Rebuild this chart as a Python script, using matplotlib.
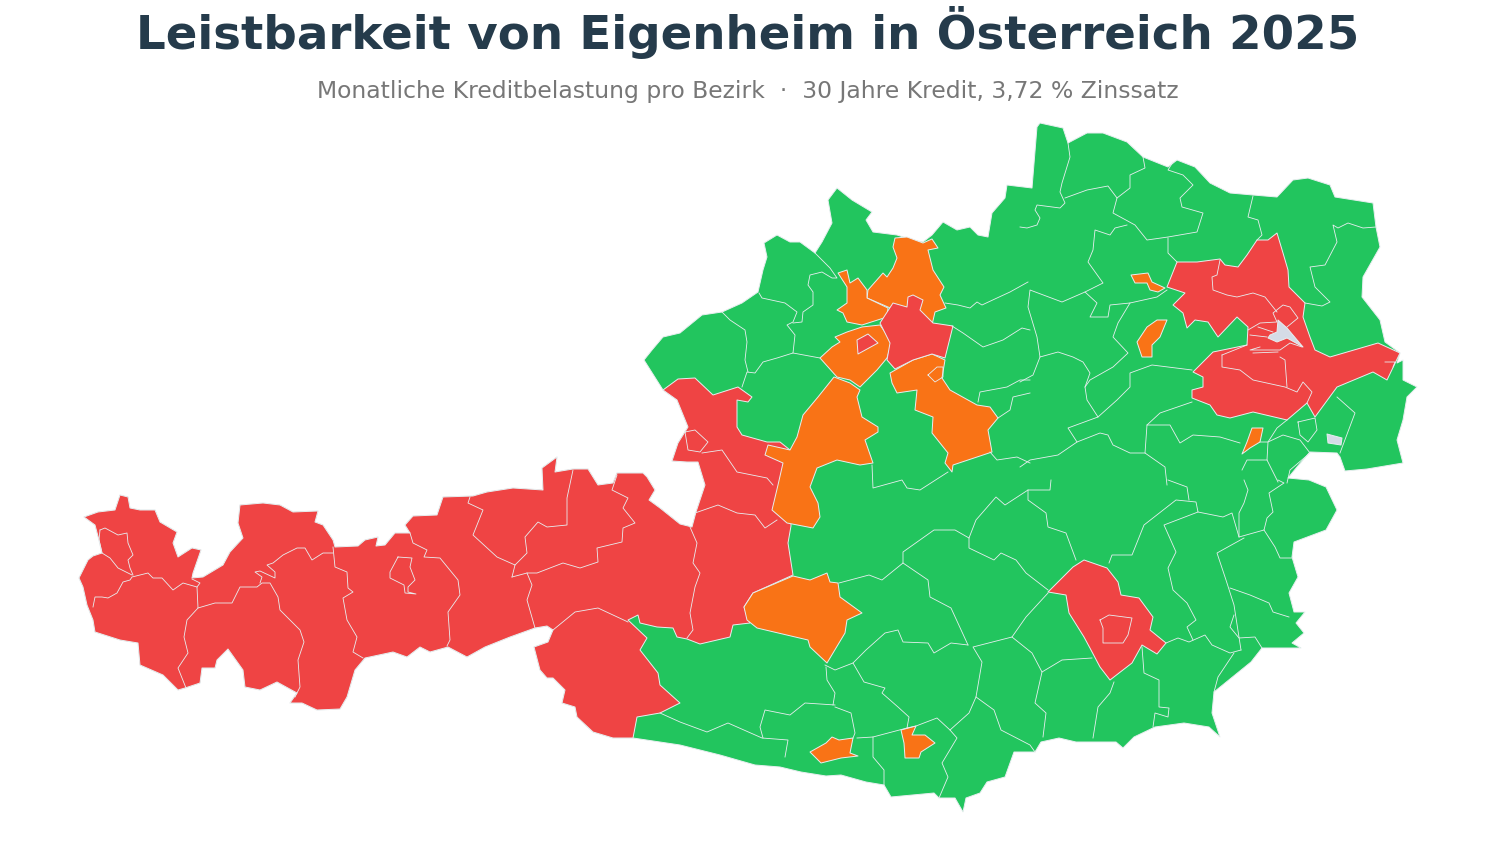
import matplotlib
matplotlib.use("Agg")
import matplotlib.pyplot as plt

# outlines, x to the right, y downwards
OUTLINE_WEST = [(633,738),(613,738),(593,732),(577,717),(575,707),(562,703),(565,690),(553,678),(547,678),(540,670),
    (534,647),(548,642),(553,630),(547,626),(535,628),(510,637),(485,647),(467,657),(448,647),(430,652),(420,647),
    (407,657),(393,652),(365,658),(355,670),(347,697),(340,709),(317,710),(302,703),(290,703),(297,693),(277,682),
    (260,690),(245,687),(243,670),(228,649),(217,660),(215,668),(202,668),(200,683),(185,688),(178,690),(163,675),
    (140,665),(138,643),(120,640),(95,632),(93,620),(87,605),(83,587),(79,578),(88,560),(93,556),(102,553),(99,540),
    (95,525),(84,517),(98,512),(115,510),(120,495),(128,497),(130,508),(140,510),(155,510),(160,522),(177,532),
    (173,543),(178,557),(192,548),(201,550),(193,573),(192,578),(203,577),(223,565),(230,552),(243,538),(238,523),
    (240,505),(263,503),(280,505),(293,512),(318,511),(315,522),(323,525),(333,540),(335,547),(358,546),(365,540),
    (378,537),(376,546),(385,545),(395,533),(410,533),(405,525),(413,516),(437,515),(443,497),(473,496),(487,492),
    (513,488),(543,490),(542,468),(557,457),(555,472),(573,469),(588,469),(598,485),(613,483),(617,473),(643,473),
    (647,477),(655,490),(649,500),(660,508),(680,524),(692,527),(696,512),(705,485),(698,462),(687,462),(672,461),
    (678,443),(688,427),(677,400),(663,390)]
OUTLINE_EAST = [(644,360),(652,350),(663,337),(680,333),(702,315),(722,312),(742,303),(758,292),(763,270),(767,257),
    (764,243),(777,235),(790,242),(800,242),(815,253),(822,242),(832,223),(828,200),(837,188),(852,200),(872,212),
    (866,220),(873,232),(897,235),(913,240),(923,242),(932,235),(943,222),(957,230),(970,227),(978,235),(988,237),
    (992,213),(1005,198),(1007,185),(1032,188),(1037,127),(1040,123),(1063,128),(1068,143),(1087,133),(1103,133),
    (1127,142),(1143,157),(1168,167),(1177,160),(1195,167),(1210,183),(1230,193),(1253,195),(1277,197),(1293,180),
    (1308,178),(1330,185),(1335,197),(1373,203),(1376,227),(1380,247),(1363,277),(1362,297),(1380,320),(1385,342),
    (1400,353),(1397,363),(1403,360),(1403,380),(1417,387),(1407,397),(1403,420),(1397,440),(1403,463),(1367,469),
    (1345,471),(1340,457),(1337,453),(1310,452),(1297,467),(1288,478),(1309,480),(1326,487),(1337,510),(1326,530),
    (1294,542),(1292,557),(1298,577),(1289,593),(1294,612),(1305,612),(1296,623),(1304,633),(1292,643),(1301,648),
    (1262,648),(1251,662),(1214,692),(1212,713),(1220,737),(1209,727),(1184,723),(1155,727),(1134,737),(1123,748),
    (1116,742),(1076,742),(1059,738),(1041,742),(1035,752),(1014,752),(1005,777),(987,782),(980,793),(966,798),
    (963,812),(955,798),(939,798),(934,793),(891,797),(884,785),(866,782),(841,775),(826,776),(801,772),(780,767),
    (755,765),(720,755),(680,745)]
WEST_BOUNDARY = [(678,379),(695,378),(713,395),(738,387),(752,397),(748,402),(737,400),(737,427),(742,435),(767,442),
    (780,442),(790,450),(791,526),(788,543),(793,575),(753,593),(744,607),(750,623),(733,625),(730,637),(700,644),
    (687,639),(677,637),(673,628),(657,627),(640,623),(638,615),(628,620),(647,638),(640,650),(658,673),(660,685),
    (680,703),(660,713),(637,717)]

RED_LOWER_AUSTRIA = [(1177,262),(1197,262),(1220,259),(1225,265),(1238,267),(1247,255),(1257,240),(1268,240),(1277,233),
    (1283,253),(1288,270),(1289,287),(1305,303),(1303,317),(1310,337),(1315,350),(1330,357),(1378,343),(1400,353),
    (1387,380),(1373,372),(1337,387),(1315,417),(1307,403),(1287,420),(1253,412),(1230,418),(1217,415),(1210,405),
    (1192,398),(1192,390),(1203,387),(1203,377),(1193,372),(1213,352),(1247,345),(1248,327),(1237,317),(1218,337),
    (1208,322),(1195,320),(1187,328),(1183,313),(1173,305),(1185,293),(1167,287)]
RED_STYRIA = [(1048,592),(1073,567),(1084,560),(1107,568),(1118,582),(1121,595),(1139,598),(1153,617),(1150,630),
    (1166,643),(1157,654),(1142,645),(1132,663),(1110,680),(1100,667),(1091,650),(1084,637),(1069,613),(1066,595)]
RED_CENTER = [(880,323),(893,303),(907,307),(908,297),(913,295),(923,300),(920,310),(933,323),(953,326),(945,358),
    (932,354),(913,360),(895,369),(887,360),(890,343),(882,327)]
RED_ISLAND = [(857,340),(868,334),(878,343),(858,354)]

ORANGE_NORTH = [(895,238),(907,237),(923,243),(932,239),(938,248),(928,250),(933,270),(944,287),(940,295),(946,308),
    (935,312),(932,325),(888,307),(867,298),(868,290),(883,273),(887,277),(893,268),(897,258),(893,247)]
ORANGE_NORTH_WEST = [(838,273),(847,270),(850,283),(858,278),(867,290),(867,298),(888,308),(887,317),(862,325),(847,322),
    (843,313),(837,310),(847,303),(847,287)]
ORANGE_WELS = [(862,327),(880,325),(892,342),(887,358),(877,370),(860,387),(850,380),(837,377),(820,358),(832,347),
    (840,342),(835,337),(847,332)]
ORANGE_SOUTH = [(834,377),(850,383),(860,390),(857,397),(862,417),(878,427),(878,432),(865,440),(873,463),(860,465),
    (837,460),(817,468),(810,487),(818,503),(820,517),(813,528),(787,523),(772,510),(778,485),(783,463),(765,455),
    (768,445),(790,450),(797,437),(803,415),(818,397)]
ORANGE_EAST = [(890,373),(913,360),(932,354),(945,360),(942,378),(950,390),(977,405),(990,407),(998,418),(988,430),
    (992,452),(977,457),(953,465),(952,472),(945,463),(948,453),(932,433),(933,417),(915,410),(917,390),(897,393),(892,383)]
ORANGE_PINZGAU = [(753,593),(793,576),(810,580),(827,573),(830,582),(838,583),(840,597),(862,613),(847,620),(845,633),
    (827,663),(810,647),(808,640),(757,628),(747,620),(744,607)]
ORANGE_SPOT_1 = [(810,752),(826,743),(832,737),(839,740),(853,738),(850,753),(858,756),(841,758),(821,763)]
ORANGE_SPOT_2 = [(901,730),(916,726),(912,735),(925,735),(935,743),(921,752),(919,758),(905,758),(904,743)]
ORANGE_SPOT_3 = [(1131,275),(1148,273),(1152,282),(1165,288),(1158,292),(1150,290),(1147,283),(1135,283)]
ORANGE_SPOT_4 = [(1147,327),(1157,320),(1167,320),(1160,337),(1152,345),(1152,357),(1142,357),(1137,342)]
ORANGE_SPOT_5 = [(1252,428),(1263,428),(1260,442),(1250,448),(1242,454),(1247,442)]

NO_DATA_VIENNA = [(1278,320),(1287,328),(1303,347),(1287,338),(1277,342),(1268,338),(1270,335),(1277,332)]
NO_DATA_RUST = [(1327,434),(1342,438),(1341,445),(1328,443)]

RED_AREAS = [RED_LOWER_AUSTRIA, RED_STYRIA]
ORANGE_AREAS = [ORANGE_NORTH, ORANGE_NORTH_WEST, ORANGE_WELS, ORANGE_SOUTH, ORANGE_EAST, ORANGE_PINZGAU,
    ORANGE_SPOT_1, ORANGE_SPOT_2, ORANGE_SPOT_3, ORANGE_SPOT_4, ORANGE_SPOT_5]
RED_ON_ORANGE = [RED_CENTER, RED_ISLAND]
GREY_AREAS = [NO_DATA_VIENNA, NO_DATA_RUST]

BORDERS_WEST = [
    [(100,530),(105,528),(118,535),(127,533),(128,543),(133,555),(128,560),(130,568),(133,575)],
    [(100,530),(99,540),(102,553),(110,558),(118,568),(132,575)],
    [(93,607),(95,597),(102,597),(108,598),(117,593),(123,582),(130,580),(132,577),(148,573),(153,578),(162,578),(173,590),(183,583),(197,587)],
    [(192,579),(200,583),(197,587),(198,608),(187,620),(184,637),(188,653),(178,668),(186,688)],
    [(198,608),(215,603),(232,603),(240,587),(257,587),(262,583),(270,583),(278,597),(280,610),(300,630),(304,642),(298,660),(300,687),(295,697)],
    [(260,583),(262,577),(255,572),(260,571),(275,578),(275,572),(267,565),(273,563),(283,555),(297,548),(305,548),(312,560),(323,553),(333,553)],
    [(333,547),(335,567),(347,572),(348,588),(353,592),(343,598),(347,620),(357,637),(353,652),(363,658)],
    [(398,557),(412,558),(410,567),(415,580),(408,587),(408,592),(416,594),(405,593),(404,585),(390,578),(390,572),(398,557)],
    [(410,533),(413,543),(427,550),(424,557),(440,558),(458,580),(460,595),(448,612),(450,640),(447,646)],
    [(470,497),(468,503),(483,510),(473,535),(497,557),(515,565),(512,577)],
    [(573,470),(567,498),(567,525),(547,527),(538,522),(525,537),(527,553),(515,565)],
    [(512,577),(527,573),(537,573),(563,563),(580,568),(598,562),(597,548),(622,542),(623,528),(635,523),(623,508),(628,498),(612,490),(617,475)],
    [(527,573),(532,585),(527,600),(535,628)],
    [(690,527),(697,543),(693,563),(700,573),(695,587),(690,613),(693,630),(687,638)],
    [(553,630),(575,612),(598,608),(628,622)],
    [(695,513),(718,505),(737,513),(755,515),(765,528),(777,520)],
    [(702,453),(722,450),(737,472),(767,478),(773,485)],
    [(685,432),(695,430),(708,442),(700,452),(688,450),(685,432)],
]
BORDERS_NORTH = [
    [(759,293),(762,298),(785,303),(797,312),(793,322),(787,325),(795,335),(793,353),(777,358),(763,362),(755,373),(747,372),(745,378),(742,387)],
    [(793,353),(820,358)],
    [(722,312),(730,320),(745,330),(747,342),(745,360),(748,372)],
    [(815,253),(830,268),(837,278),(832,278),(822,272),(810,275),(808,285),(813,292),(813,305),(803,312),(802,322),(793,323)],
    [(945,303),(958,305),(970,308),(977,302),(982,305),(997,298),(1010,292),(1028,282)],
    [(952,326),(963,333),(983,347),(1003,340),(1022,328),(1030,330)],
    [(872,465),(873,488),(902,480),(907,488),(920,490),(948,472)],
    [(978,402),(980,392),(1007,387),(1020,380),(1030,380)],
    [(990,452),(997,460),(1017,457),(1030,463)],
    [(998,418),(1010,410),(1013,397),(1030,393)],
    [(928,375),(937,367),(943,367),(943,377),(935,382),(928,375)],
    [(1068,143),(1070,157),(1062,183),(1060,192),(1065,203),(1060,208),(1037,205),(1035,210),(1040,218),(1037,225),(1027,228),(1020,227)],
    [(1065,198),(1087,190),(1108,186),(1117,198),(1113,213),(1135,225),(1147,240),(1168,237),(1197,232),(1203,213),(1182,207),(1180,198),(1193,185),(1183,175),(1168,170),(1173,162)],
    [(1143,157),(1145,168),(1130,175),(1130,188),(1117,198)],
    [(1127,225),(1115,228),(1110,235),(1095,230),(1093,250),(1088,262),(1103,283),(1085,292),(1097,303),(1090,317),(1108,317),(1110,305),(1130,303),(1157,297),(1167,290)],
    [(1168,238),(1168,253),(1177,262)],
    [(1085,292),(1062,302),(1030,290),(1028,307),(1037,337),(1040,357),(1058,352),(1073,357),(1083,362),(1090,373),(1085,387)],
    [(1130,303),(1118,323),(1113,337),(1128,353),(1113,367),(1090,380),(1085,387),(1087,400),(1098,417),(1068,428),(1077,442),(1058,455),(1030,460),(1020,467)],
    [(1040,357),(1033,375),(1020,382)],
    [(1098,417),(1117,400),(1130,387),(1130,373),(1152,365),(1192,370)],
    [(1192,402),(1160,413),(1147,425),(1145,453),(1165,467),(1167,485)],
    [(1077,442),(1100,433),(1108,435),(1113,445),(1130,453),(1145,453)],
    [(1147,425),(1170,425),(1180,443),(1193,435),(1220,437),(1240,443)],
    [(1287,420),(1277,428),(1268,442),(1267,460),(1278,482)],
    [(1260,442),(1268,442),(1283,435),(1300,440),(1310,453),(1290,470),(1287,483)],
    [(1298,422),(1315,418),(1317,430),(1308,442),(1300,435),(1298,422)],
    [(1337,397),(1355,413),(1340,453)],
    [(1267,460),(1247,460),(1242,470)],
    [(1253,196),(1248,217),(1258,220),(1262,235),(1257,240)],
    [(1376,227),(1363,228),(1348,223),(1338,228),(1333,225),(1337,242),(1325,265),(1310,267),(1315,287),(1330,302),(1322,306),(1305,303)],
]
BORDERS_VIENNA = [
    [(1220,260),(1217,275),(1212,277),(1213,290),(1227,295),(1237,297),(1253,293),(1265,297),(1277,312)],
    [(1222,355),(1222,367),(1240,370),(1253,380),(1285,387),(1297,392),(1303,382),(1312,392),(1307,403)],
    [(1287,387),(1285,360),(1280,357)],
    [(1222,355),(1247,345)],
    [(1248,330),(1260,323),(1277,322),(1273,313),(1283,305),(1290,307),(1298,318),(1287,327)],
    [(1250,335),(1267,337)],
    [(1258,327),(1273,332)],
    [(1260,347),(1250,350),(1267,350),(1280,350),(1290,343),(1302,347)],
    [(1253,353),(1278,352)],
    [(1385,362),(1395,362),(1393,367)],
]
BORDERS_SOUTH = [
    [(839,583),(869,575),(882,580),(903,563),(903,552),(934,530),(955,530),(969,538),(976,520),(996,497),(1005,505),(1028,490),(1050,490),(1051,480)],
    [(903,563),(928,580),(930,597),(951,608),(968,645)],
    [(969,538),(969,548),(994,560),(1001,553),(1016,560),(1026,573),(1048,590)],
    [(1028,490),(1028,500),(1046,513),(1048,527),(1066,533),(1076,560)],
    [(1109,563),(1112,555),(1132,555),(1144,525),(1176,500),(1196,502),(1198,512),(1164,525),(1176,552),(1168,568),(1173,590),(1187,603),(1196,620),(1187,627),(1193,640)],
    [(1189,500),(1187,487),(1168,480)],
    [(1198,512),(1223,517),(1232,513),(1239,537),(1264,530),(1267,518),(1273,512),(1269,493),(1284,483),(1278,480)],
    [(1244,480),(1248,490),(1244,503),(1239,513),(1239,537)],
    [(1264,530),(1275,547),(1280,558),(1292,558)],
    [(1244,538),(1217,553),(1226,580),(1234,605),(1241,650)],
    [(1230,588),(1250,595),(1269,603),(1273,612),(1289,617)],
    [(1234,615),(1230,627),(1239,638),(1255,637),(1262,648)],
    [(1166,643),(1178,638),(1189,642),(1205,635),(1212,645),(1230,653),(1241,650)],
    [(1234,653),(1218,677),(1214,692)],
    [(1142,647),(1144,673),(1159,680),(1159,707),(1169,708),(1168,717),(1155,713),(1153,727)],
    [(1114,682),(1110,693),(1098,707),(1093,738)],
    [(1048,593),(1026,617),(1012,637),(1032,653),(1042,672),(1062,660),(1092,658)],
    [(1042,672),(1035,703),(1046,713),(1043,737)],
    [(1012,637),(973,647),(982,662),(976,697),(994,710),(1001,730),(1030,745),(1035,752)],
    [(976,697),(969,713),(950,730),(957,738),(942,763),(948,777),(939,798)],
    [(950,730),(937,718),(916,726),(907,728),(909,717),(898,707),(882,693),(885,688),(864,682),(853,663),(866,650),(885,633),(898,630),(903,642),(928,643),(934,653),(951,643),(968,645)],
    [(853,663),(835,670),(825,665)],
    [(835,707),(851,713),(855,733),(853,738)],
    [(857,738),(873,737),(907,728)],
    [(873,737),(873,757),(884,770),(884,785)],
    [(660,713),(680,722),(707,732),(728,723),(762,738),(788,740),(785,757)],
    [(835,705),(805,703),(790,715),(765,710),(760,727),(763,738)],
    [(826,667),(827,680),(835,693),(833,705)],
    [(1100,620),(1109,615),(1132,618),(1128,635),(1123,643),(1103,643),(1103,628),(1100,620)],
]

TITLE = "Leistbarkeit von Eigenheim in Österreich 2025"
SUBTITLE = "Monatliche Kreditbelastung pro Bezirk  ·  30 Jahre Kredit, 3,72 % Zinssatz"

GREEN = "#22c55e"
ORANGE = "#f97316"
RED = "#ef4444"
GREY = "#d5dbe6"
EDGE = "#e8eef0"


def draw_area(ax, points, color):
    xs = [p[0] for p in points]
    ys = [p[1] for p in points]
    ax.fill(xs, ys, facecolor=color, edgecolor=EDGE, linewidth=0.7, joinstyle="round")


fig = plt.figure(figsize=(14.96, 8.42), dpi=100)
ax = fig.add_axes([0, 0, 1, 1])

draw_area(ax, OUTLINE_WEST + OUTLINE_EAST, GREEN)
draw_area(ax, OUTLINE_WEST + WEST_BOUNDARY, RED)
for area in RED_AREAS:
    draw_area(ax, area, RED)
for area in ORANGE_AREAS:
    draw_area(ax, area, ORANGE)
for area in RED_ON_ORANGE:
    draw_area(ax, area, RED)
for area in GREY_AREAS:
    draw_area(ax, area, GREY)

for line in BORDERS_WEST + BORDERS_NORTH + BORDERS_VIENNA + BORDERS_SOUTH:
    ax.plot([p[0] for p in line], [p[1] for p in line], color=EDGE, linewidth=0.6)

ax.set_xlim(0, 1496)
ax.set_ylim(842, 0)
ax.axis("off")

fig.text(0.5, 0.961, TITLE, ha="center", va="center", fontsize=33.7, fontweight="bold", color="#253b4b")
fig.text(0.5, 0.891, SUBTITLE, ha="center", va="center", fontsize=16.9, color="#777777")

fig.savefig("out.png", dpi=100, facecolor="white")
